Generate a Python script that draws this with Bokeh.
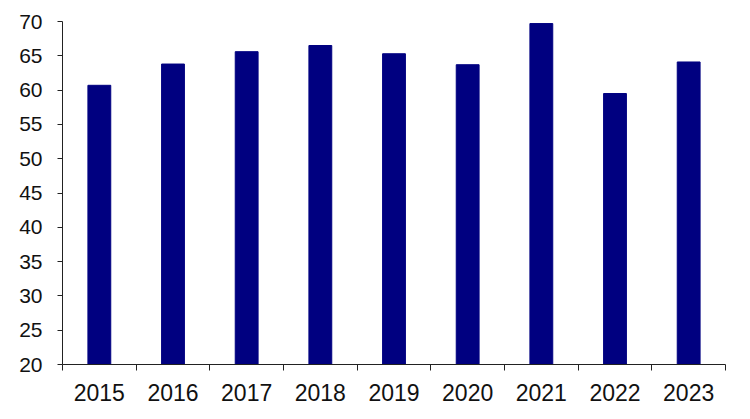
from bokeh.plotting import figure
from bokeh.models import FixedTicker, ColumnDataSource, Range1d
from bokeh.embed import file_html
from bokeh.resources import INLINE

years = ["2015", "2016", "2017", "2018", "2019", "2020", "2021", "2022", "2023"]
values = [60.7, 63.8, 65.6, 66.5, 65.3, 63.7, 69.7, 59.5, 64.1]
y_ticks = [20, 25, 30, 35, 40, 45, 50, 55, 60, 65, 70]

centers = [i + 0.5 for i in range(len(years))]
bounds = list(range(len(years) + 1))

src = ColumnDataSource(data=dict(x=centers, top=values))

p = figure(width=734, height=411, output_backend="svg", toolbar_location=None,
           x_range=Range1d(0, len(years)), y_range=Range1d(20, 70),
           min_border_left=62, min_border_right=9, min_border_top=21, min_border_bottom=47)
p.outline_line_color = None
p.xgrid.visible = False
p.ygrid.visible = False
p.background_fill_color = "white"
p.border_fill_color = "white"

p.vbar(x="x", top="top", bottom=20, width=0.31, source=src,
       fill_color="#000080", line_color="#000080")

font = "Liberation Sans"
p.yaxis.ticker = FixedTicker(ticks=y_ticks)
p.yaxis.major_tick_in = 0
p.yaxis.major_tick_out = 5
p.yaxis.minor_tick_out = 0
p.yaxis.minor_tick_in = 0
p.yaxis.major_label_standoff = 15
p.yaxis.major_label_text_font = font
p.yaxis.major_label_text_font_size = "21px"
p.yaxis.major_label_text_color = "#111111"
p.yaxis.axis_line_color = "#222222"
p.yaxis.major_tick_line_color = "#222222"

p.xaxis.ticker = FixedTicker(ticks=centers, minor_ticks=bounds)
p.xaxis.major_label_overrides = {c: y for c, y in zip(centers, years)}
p.xaxis.major_tick_in = 0
p.xaxis.major_tick_out = 0
p.xaxis.minor_tick_in = 0
p.xaxis.minor_tick_out = 6
p.xaxis.major_label_standoff = 13
p.xaxis.major_label_text_font = font
p.xaxis.major_label_text_font_size = "23px"
p.xaxis.major_label_text_color = "#111111"
p.xaxis.axis_line_color = "#222222"
p.xaxis.minor_tick_line_color = "#222222"

open("out.html", "w").write(file_html(p, INLINE))
